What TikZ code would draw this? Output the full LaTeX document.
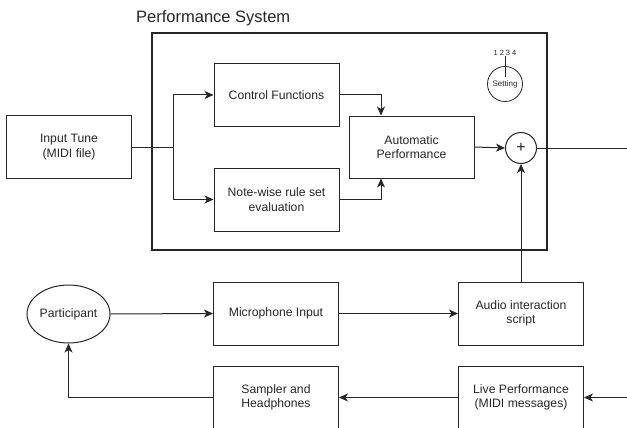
\documentclass[tikz,border=0pt]{standalone}
\usepackage{fontspec}
\setmainfont{Liberation Sans}
\usetikzlibrary{arrows.meta,shapes.geometric,calc}
\begin{document}
\begin{tikzpicture}[x=1pt,y=-1pt,
  every node/.style={font=\fontsize{12.2}{14.5}\selectfont, text=black!85},
  blk/.style={draw=black!85, line width=1pt, minimum width=125pt, minimum height=63pt, align=center, inner sep=0pt},
  arr/.style={-{Stealth[length=9pt,width=8pt,inset=2.5pt]}},
  ln/.style={line width=1pt, draw=black!85}]
\useasboundingbox (0,0) rectangle (627,428);
\clip (0,0) rectangle (627,428);
% title and frame
\node[anchor=west, font=\fontsize{16.5}{18}\selectfont, inner sep=0pt] (title) at (136,18) {Performance System};
\draw[line width=2pt, draw=black!85] (151.5,33) rectangle (547,250);
% boxes
\node[blk] (in) at (69,147) {Input Tune\\(MIDI file)};
\node[blk] (cf) at (276.5,95) {Control Functions};
\node[blk] (nw) at (276.5,199.5) {Note-wise rule set\\evaluation};
\node[blk, minimum height=62pt] (ap) at (411.5,147) {Automatic\\Performance};
\node[draw=black!85, line width=1pt, circle, minimum size=31pt, inner sep=0pt, font=\fontsize{16}{16}\selectfont] (plus) at (521,148) {+};
\node[draw=black!85, line width=0.8pt, circle, minimum size=35pt, inner sep=0pt, font=\fontsize{8}{8}\selectfont] (set) at (505,84) {\raisebox{-4pt}{Setting}};
\node[font=\fontsize{7.5}{8}\selectfont, inner sep=0pt] (nums) at (505,52.5) {1\hspace{2pt}2\hspace{2pt}3\hspace{2pt}4};
\draw[line width=0.9pt, draw=black!85] ([yshift=-1pt]nums.south) -- ([yshift=-11pt]set.north);
\node[draw=black!85, line width=1pt, ellipse, minimum width=83pt, minimum height=58pt, inner sep=0pt] (part) at (68.5,314) {Participant};
\node[blk] (mic) at (276,313.5) {Microphone Input};
\node[blk] (aud) at (521,313.5) {Audio interaction\\script};
\node[blk] (samp) at (276,397.5) {Sampler and\\Headphones};
\node[blk] (live) at (521,397.5) {Live Performance\\(MIDI messages)};
% connectors
\coordinate (j) at (173,147);
\coordinate (outR) at (628,148);
\coordinate (inR) at (628,397.5);
\draw[ln] (in.east) -- (j);
\draw[ln,arr] (j) |- (cf.west);
\draw[ln,arr] (j) |- (nw.west);
\draw[ln,arr] (cf.east) -| ([xshift=-30.5pt]ap.north);
\draw[ln,arr] (nw.east) -| ([xshift=-30.5pt]ap.south);
\draw[ln,arr] (ap.east) -- (plus.west);
\draw[ln] (plus.east) -- (outR);
\draw[ln,arr] (aud.north) -- (plus.south);
\draw[ln,arr] (part.east) -- (mic.west);
\draw[ln,arr] (mic.east) -- (aud.west);
\draw[ln,arr] (inR) -- (live.east);
\draw[ln,arr] (live.west) -- (samp.east);
\draw[ln,arr] (samp.west) -| (part.south);
\end{tikzpicture}
\end{document}
